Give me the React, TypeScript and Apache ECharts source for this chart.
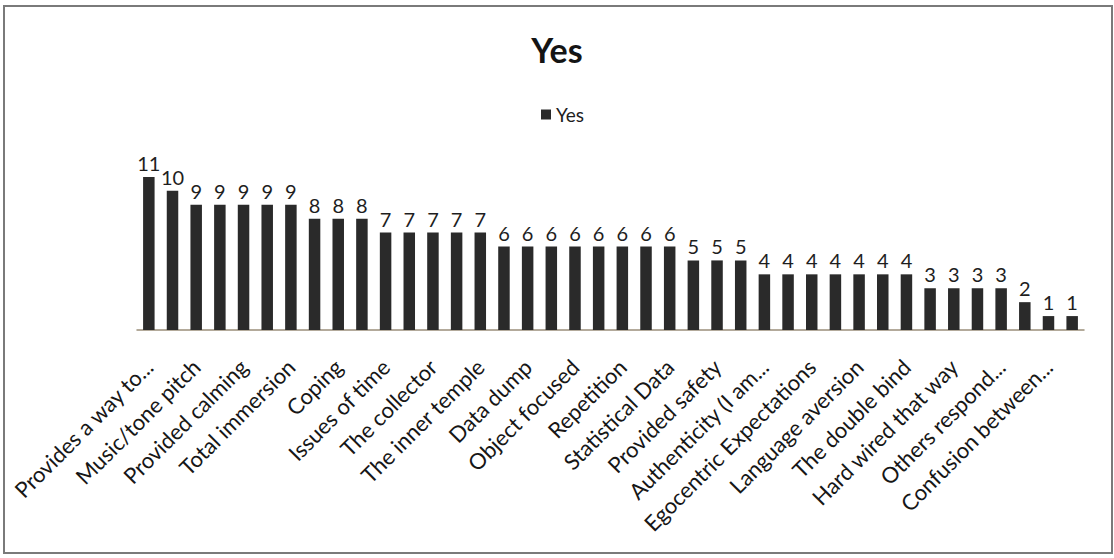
import React, { useEffect, useRef } from "react";
import * as echarts from "echarts";

const labelNames = [
  "Provides a way to...",
  "Music/tone pitch",
  "Provided calming",
  "Total immersion",
  "Coping",
  "Issues of time",
  "The collector",
  "The inner temple",
  "Data dump",
  "Object focused",
  "Repetition",
  "Statistical Data",
  "Provided safety",
  "Authenticity (I am...",
  "Egocentric Expectations",
  "Language aversion",
  "The double bind",
  "Hard wired that way",
  "Others respond...",
  "Confusion between...",
];

const values = [
  11, 10, 9, 9, 9, 9, 9, 8, 8, 8,
  7, 7, 7, 7, 7, 6, 6, 6, 6, 6,
  6, 6, 6, 5, 5, 5, 4, 4, 4, 4,
  4, 4, 4, 3, 3, 3, 3, 2, 1, 1,
];

const seriesName = "Yes";
const titleText = "Yes";

const categories = values.map((_, i) => (i % 2 === 0 ? labelNames[i / 2] : ""));

export default function App() {
  const ref = useRef<HTMLDivElement>(null);
  useEffect(() => {
    if (!ref.current) return;
    const chart = echarts.init(ref.current, undefined, { renderer: "svg" });
    chart.setOption({
      animation: false,
      backgroundColor: "#ffffff",
      title: {
        text: titleText,
        left: "center",
        top: 27,
        textStyle: { fontFamily: "Lato", fontSize: 34, fontWeight: "bold", color: "#141414" },
      },
      legend: {
        data: [seriesName],
        top: 100,
        left: 536,
        icon: "rect",
        itemWidth: 10,
        itemHeight: 10,
        itemGap: 4,
        textStyle: { fontFamily: "Lato", fontSize: 19, color: "#1e1e1e" },
      },
      grid: { left: 137, right: 30, top: 163, bottom: 228, outerBoundsMode: "none" },
      xAxis: {
        type: "category",
        data: categories,
        axisLine: { lineStyle: { color: "#9a8e7a", width: 1.5 } },
        axisTick: { show: false },
        axisLabel: {
          interval: 1,
          rotate: 45,
          fontFamily: "Lato",
          fontSize: 22,
          color: "#161616",
          margin: 33,
        },
      },
      yAxis: { type: "value", min: 0, max: 12, show: false },
      series: [
        {
          type: "bar",
          name: seriesName,
          data: values,
          barWidth: 11.5,
          itemStyle: { color: "#2a2a2a" },
          label: {
            show: true,
            position: "top",
            distance: 4,
            fontFamily: "Lato",
            fontSize: 20,
            color: "#1e1e1e",
          },
        },
      ],
      graphic: [
        {
          type: "rect",
          shape: { x: 4, y: 6, width: 1108, height: 547 },
          style: { fill: "none", stroke: "#7a7a7a", lineWidth: 2 },
          silent: true,
        },
      ],
    });
    return () => chart.dispose();
  }, []);
  return (
    <div
      ref={ref}
      style={{ position: "fixed", left: 0, top: 0, width: 1114, height: 558, background: "#fff" }}
    />
  );
}
